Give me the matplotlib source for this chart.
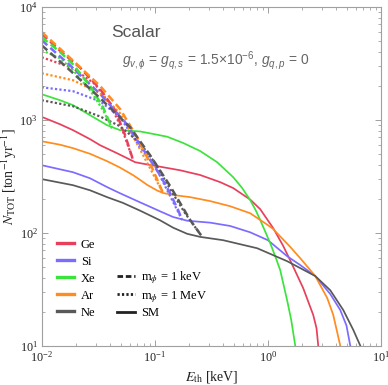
import matplotlib
matplotlib.use("Agg")
import matplotlib.pyplot as plt
from matplotlib.lines import Line2D

# (E_th in keV, N_TOT in ton^-1 yr^-1)

# --- SM (solid) ---
ge_sm_E = [0.01, 0.01452, 0.01892, 0.02675, 0.03281, 0.0463, 0.0569, 0.067, 0.0822, 0.1114, 0.1675,
           0.2518, 0.3784, 0.4931, 0.6973, 0.8546, 1.114, 1.366, 1.575, 2.05, 2.517, 2.69, 2.787]
ge_sm_N = [1064, 915, 811, 675, 597, 507, 458, 422, 406, 385, 358,
           325, 281, 249, 197, 162, 110, 76.5, 57, 32.4, 18.7, 14.3, 10]

si_sm_E = [0.01, 0.01892, 0.02675, 0.03785, 0.0493, 0.0742, 0.0908, 0.1114, 0.1452, 0.1931, 0.3085,
           0.4634, 0.6973, 1.0, 1.482, 1.931, 2.622, 3.558, 4.363, 4.95, 5.35]
si_sm_N = [397, 344, 304, 254, 224, 186, 170, 155, 138, 128, 123,
           115, 101, 86, 62, 51.8, 41.4, 28.7, 20.7, 15.1, 10]

xe_sm_E = [0.01, 0.01452, 0.01892, 0.02675, 0.03785, 0.04929, 0.0742, 0.0975, 0.1285, 0.178, 0.2518,
           0.3557, 0.4931, 0.589, 0.6973, 0.776, 0.8546, 1.048, 1.161, 1.285, 1.482, 1.608, 1.745]
xe_sm_N = [1688, 1494, 1350, 1101, 898, 811, 790, 750, 710, 625, 530,
           422, 311, 251, 195, 160, 130, 81, 62, 46.7, 25, 16.9, 10]

ar_sm_E = [0.01, 0.01452, 0.01892, 0.02675, 0.03785, 0.04929, 0.0643, 0.0742, 0.0855, 0.1048, 0.1184,
           0.1518, 0.2051, 0.3085, 0.4634, 0.6973, 0.9864, 1.114, 1.575, 1.931, 2.622, 3.348, 3.784, 4.363]
ar_sm_N = [647, 603, 562, 501, 431, 378, 324, 294, 266, 237, 225,
           215, 207, 191, 172, 149, 118, 108, 75, 59.6, 41.4, 26.4, 18.7, 10]

ne_sm_E = [0.01, 0.01892, 0.02675, 0.03785, 0.0523, 0.0742, 0.1114, 0.1452, 0.1931, 0.2518, 0.4019,
           0.8039, 1.482, 2.622, 3.558, 4.638, 5.687, 6.56]
ne_sm_N = [299, 264, 238, 207, 184, 157, 129, 111, 98, 92, 86,
           73, 56, 41.4, 31, 20.7, 13.8, 10]

# --- m_phi = 1 keV (dashed) ---
ge_kev_E = [0.01, 0.01452, 0.02183, 0.03281, 0.04457, 0.0546, 0.0643]
ge_kev_N = [5800, 4100, 2900, 1880, 1220, 733, 440]
si_kev_E = [0.01, 0.01778, 0.03281, 0.0546, 0.0855, 0.1114, 0.1365, 0.1608, 0.1745]
si_kev_N = [5075, 3050, 1700, 955, 487, 324, 224, 159, 130]
xe_kev_E = [0.01, 0.01452, 0.01892, 0.02675, 0.03483, 0.04188]
xe_kev_N = [5395, 4000, 3100, 2000, 1297, 845]
ar_kev_E = [0.01, 0.01892, 0.03281, 0.04929, 0.0697, 0.0908, 0.1184]
ar_kev_N = [6000, 3350, 2000, 1250, 703, 414, 224]
ne_kev_E = [0.01, 0.01778, 0.03281, 0.0604, 0.0908, 0.1365, 0.2051, 0.2625]
ne_kev_N = [4580, 2750, 1560, 861, 487, 260, 130, 92]

# --- m_phi = 1 MeV (dotted) ---
ge_mev_E = [0.01, 0.01892, 0.02965, 0.04018, 0.0514, 0.0643]
ge_mev_N = [3590, 2870, 2070, 1377, 828, 440]
si_mev_E = [0.01, 0.01892, 0.03281, 0.04929, 0.0742, 0.1007, 0.1312, 0.1745]
si_mev_N = [1946, 1796, 1462, 1057, 570, 389, 229, 130]
xe_mev_E = [0.01, 0.01452, 0.01892, 0.02675, 0.03483, 0.04188]
xe_mev_N = [4140, 3516, 2755, 1832, 1220, 845]
ar_mev_E = [0.01, 0.01892, 0.03281, 0.04929, 0.067, 0.0908, 0.1184]
ar_mev_N = [2590, 2245, 1723, 1146, 661, 373, 224]
ne_mev_E = [0.01, 0.01892, 0.03281, 0.04929, 0.0742, 0.1007, 0.1365, 0.1853, 0.2625]
ne_mev_N = [1494, 1321, 1072, 879, 622, 414, 244, 149, 92]

names = ["Ge", "Si", "Xe", "Ar", "Ne"]
colors = ["#E8405C", "#7B6CFF", "#3DE33D", "#FF8C1E", "#595959"]

plt.rcParams["font.family"] = ["Liberation Serif", "DejaVu Serif"]
plt.rcParams["mathtext.fontset"] = "stix"
plt.rcParams["mathtext.rm"] = "Liberation Sans"
plt.rcParams["mathtext.it"] = "Liberation Sans:italic"
plt.rcParams["mathtext.bf"] = "Liberation Sans:bold"

fig = plt.figure(figsize=(3.88, 3.85), dpi=100)
ax = fig.add_axes([41.7 / 388, 1 - 345.7 / 385, 339.3 / 388, 338.7 / 385])

sm = [(ge_sm_E, ge_sm_N), (si_sm_E, si_sm_N), (xe_sm_E, xe_sm_N), (ar_sm_E, ar_sm_N), (ne_sm_E, ne_sm_N)]
kev = [(ge_kev_E, ge_kev_N), (si_kev_E, si_kev_N), (xe_kev_E, xe_kev_N), (ar_kev_E, ar_kev_N), (ne_kev_E, ne_kev_N)]
mev = [(ge_mev_E, ge_mev_N), (si_mev_E, si_mev_N), (xe_mev_E, xe_mev_N), (ar_mev_E, ar_mev_N), (ne_mev_E, ne_mev_N)]

for i, c in enumerate(colors):
    ax.plot(sm[i][0], sm[i][1], color=c, lw=1.25, solid_joinstyle="round")
for i, c in enumerate(colors):
    ax.plot(mev[i][0], mev[i][1], color=c, lw=1.6, dashes=(1.0, 1.0))
for i, c in enumerate(colors):
    ax.plot(kev[i][0], kev[i][1], color=c, lw=1.8, dashes=(3.0, 1.6))

ax.set_xscale("log")
ax.set_yscale("log")
ax.set_xlim(1e-2, 1e1)
ax.set_ylim(1e1, 1e4)

for s in ax.spines.values():
    s.set_color("#a0a0a0")
    s.set_linewidth(0.8)
ax.tick_params(which="both", direction="in", top=True, right=True, color="#a0a0a0",
               labelsize=8.7, labelcolor="#222222")
ax.tick_params(which="major", length=4.5, width=0.7, pad=3)
ax.tick_params(which="minor", length=2.5, width=0.6)

ax.set_xlabel(r"$E_{\rm th}$ [keV]", fontsize=10, color="#222222", labelpad=3)
ax.set_ylabel(r"$N_{\rm TOT}$ [ton$^{-1}$yr$^{-1}$]", fontsize=10, color="#222222")
ax.yaxis.set_label_coords(-0.067, 0.5)

ax.text(0.204, 0.911, "Scalar", transform=ax.transAxes, fontsize=12.5, color="#555555",
        family="Liberation Sans", ha="left", va="baseline")
ax.text(0.237, 0.829, r"$g_{v,\phi}$ = $g_{q,s}$ = 1.5$\times$10$^{-6}$, $g_{q,p}$ = 0",
        transform=ax.transAxes, fontsize=10, color="#666666", family="Liberation Sans",
        math_fontfamily="custom", ha="left", va="baseline")

h1 = [Line2D([], [], color=c, lw=2.4) for c in colors]
leg1 = ax.legend(h1, names, loc="upper left", bbox_to_anchor=(0.045, 0.316), frameon=False,
                 fontsize=9, handlelength=1.4, handletextpad=0.5, labelspacing=0.4,
                 borderpad=0, borderaxespad=0)
ax.add_artist(leg1)

h2 = [Line2D([], [], color="#222222", lw=2.0, dashes=(2.0, 1.0)),
      Line2D([], [], color="#222222", lw=2.0, dashes=(0.8, 0.8)),
      Line2D([], [], color="#222222", lw=2.0)]
l2 = [r"m$_\phi$ = 1 keV", r"m$_\phi$ = 1 MeV", "SM"]
ax.legend(h2, l2, loc="upper left", bbox_to_anchor=(0.222, 0.225), frameon=False,
          fontsize=9, handlelength=1.4, handletextpad=0.5, labelspacing=0.22,
          borderpad=0, borderaxespad=0)

fig.savefig("out.png", dpi=100)
